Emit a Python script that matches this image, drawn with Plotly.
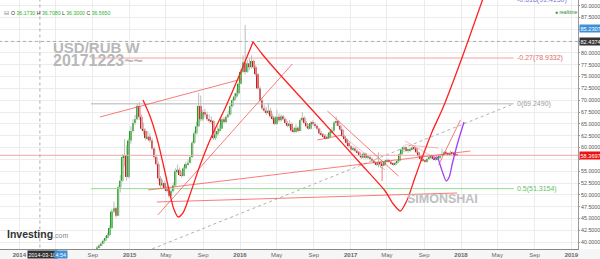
import plotly.graph_objects as go
import pandas as pd

# ---------------- data ----------------
first_week = "2014-09-01"
first_open = 37.0
close = [37.6, 38.3, 38.9, 39.3, 39.7, 40.3, 40.9, 41.5, 43.0, 46.5,
         47.2, 45.6, 51.6, 53.0, 58.0, 58.4, 53.8, 61.5, 63.5, 65.2,
         66.0, 68.8, 66.5, 64.0, 63.5, 62.0, 62.3, 61.5, 59.8, 58.0,
         56.5, 53.5, 52.0, 52.5, 51.4, 51.0, 49.8, 50.8, 52.0, 55.0,
         55.3, 54.2, 54.0, 55.6, 56.5, 56.8, 58.0, 61.0, 63.0, 64.5,
         68.8, 66.0, 67.5, 67.0, 66.0, 65.8, 65.6, 62.0, 62.8, 63.5,
         64.0, 66.0, 65.4, 66.5, 67.0, 68.8, 70.0, 70.8, 71.5, 73.5,
         76.0, 78.0, 76.0, 77.8, 77.0, 78.3, 77.0, 75.5, 72.5, 70.0,
         68.3, 67.8, 67.3, 67.8, 66.6, 66.2, 65.0, 66.5, 65.8, 66.6,
         66.0, 65.2, 64.6, 65.0, 63.6, 63.3, 64.2, 63.5, 65.8, 66.3,
         65.2, 64.5, 64.0, 65.2, 65.0, 64.6, 64.0, 63.0, 62.8, 62.4,
         62.0, 62.2, 63.2, 63.6, 65.3, 65.6, 64.6, 63.8, 62.4, 61.8,
         61.0, 60.3, 59.6, 59.8, 59.3, 59.0, 58.4, 57.9, 58.7, 57.9,
         58.0, 57.6, 57.2, 56.8, 56.5, 56.9, 56.6, 56.3, 57.0, 57.3,
         57.0, 56.6, 56.4, 56.8, 57.2, 58.6, 59.6, 60.1, 59.3, 59.4,
         59.6, 60.0, 59.8, 59.0, 58.2, 57.6, 57.2, 57.0, 57.6, 57.8,
         58.2, 57.6, 57.4, 57.8, 58.3, 58.6, 59.0, 58.8, 58.6, 58.9,
         58.8, 58.5, 58.37]
high = [37.9, 38.5, 39.2, 39.6, 40.1, 40.6, 41.3, 42.0, 43.6, 47.0,
        48.6, 47.5, 52.0, 54.2, 58.6, 61.8, 60.5, 62.0, 64.5, 66.0,
        66.9, 69.3, 69.6, 67.0, 65.3, 64.0, 63.5, 63.0, 62.0, 60.2,
        58.5, 57.0, 54.0, 53.2, 53.0, 52.0, 51.6, 51.2, 52.6, 55.6,
        56.4, 55.8, 55.0, 56.0, 57.0, 57.5, 58.4, 61.4, 63.6, 65.5,
        71.5, 71.0, 68.0, 68.2, 67.6, 67.0, 66.6, 65.8, 63.8, 64.5,
        64.8, 66.4, 66.5, 66.8, 67.8, 69.0, 70.3, 71.5, 72.3, 73.8,
        76.5, 79.5, 85.9, 78.5, 78.8, 79.5, 78.6, 77.5, 75.8, 73.0,
        70.5, 69.0, 68.6, 69.5, 68.4, 67.2, 66.6, 68.0, 67.2, 67.0,
        66.9, 66.3, 65.6, 65.8, 65.3, 64.2, 64.9, 64.5, 66.2, 67.5,
        66.6, 65.6, 65.0, 65.6, 65.8, 65.4, 64.9, 64.2, 63.5, 63.0,
        62.8, 62.8, 63.6, 64.3, 65.6, 66.6, 65.8, 64.8, 64.0, 62.7,
        62.0, 61.3, 60.5, 60.3, 60.1, 59.6, 59.2, 58.6, 59.0, 58.9,
        58.4, 58.3, 57.9, 57.5, 57.0, 59.0, 57.2, 56.9, 57.3, 57.7,
        57.6, 57.2, 56.8, 57.0, 57.4, 58.8, 59.9, 60.5, 60.2, 59.8,
        60.1, 60.4, 60.3, 59.9, 59.2, 58.4, 57.9, 57.5, 57.9, 58.2,
        58.5, 58.3, 57.9, 58.0, 58.5, 59.8, 59.3, 59.3, 59.0, 59.4,
        59.2, 58.9, 58.6]
low = [36.8, 37.5, 38.2, 38.7, 39.2, 39.6, 40.2, 40.8, 41.3, 42.8,
       46.2, 45.2, 45.5, 50.5, 52.8, 56.0, 53.0, 53.5, 60.8, 63.2,
       64.8, 65.8, 65.8, 63.7, 62.8, 61.5, 61.6, 61.0, 59.5, 57.6,
       56.2, 53.0, 51.5, 51.8, 51.0, 50.5, 49.4, 49.3, 50.5, 51.8,
       54.6, 54.0, 53.6, 53.9, 55.4, 56.2, 56.6, 57.8, 60.8, 62.8,
       64.3, 65.5, 65.6, 66.4, 65.6, 65.2, 65.0, 61.6, 61.6, 62.6,
       63.2, 63.8, 65.0, 65.2, 66.2, 66.8, 68.5, 69.8, 70.5, 71.2,
       73.5, 75.8, 75.4, 75.8, 76.4, 76.7, 76.6, 75.1, 72.2, 69.6,
       67.9, 67.4, 66.9, 67.0, 66.3, 65.8, 64.7, 64.8, 65.4, 65.5,
       65.7, 64.9, 64.3, 64.2, 63.4, 63.0, 63.1, 63.2, 63.4, 65.5,
       65.0, 64.2, 63.7, 63.8, 64.6, 64.2, 63.7, 62.7, 62.4, 62.0,
       61.7, 61.8, 62.0, 62.9, 63.3, 64.6, 64.4, 63.5, 62.2, 61.5,
       60.7, 60.0, 59.2, 59.3, 59.0, 58.7, 58.1, 57.6, 57.7, 57.6,
       57.6, 57.3, 56.9, 56.5, 56.1, 55.8, 55.7, 55.9, 56.1, 56.8,
       56.8, 56.3, 56.1, 56.2, 56.6, 57.0, 58.4, 59.0, 59.1, 58.9,
       59.1, 59.4, 59.5, 58.8, 58.0, 57.4, 57.0, 56.8, 56.8, 57.4,
       57.6, 57.4, 57.2, 57.3, 57.6, 58.1, 58.4, 58.5, 58.4, 58.5,
       58.6, 58.3, 58.3]

last_price = 58.3697
cross_date, cross_price = "2014-03-10", 82.4374
marker_price = 85.2307

fib_dates = ["2014-08-26", "2018-06-24"]
fib_base = [33.3818, 69.2490]
fib_levels = [78.9332, 69.2490, 51.3154]
fib_labels = ["-0.27(78.9332)", "0(69.2490)", "0.5(51.3154)"]
fib_top = 91.4130
fib_top_label = "-0.618(91.4130)"

# thin trend lines (date pairs, price pairs)
trend_lines = [
    (["2014-09-25", "2016-01-08"], [66.47, 74.5]),
    (["2015-04-04", "2016-06-22"], [45.75, 77.67]),
    (["2015-03-03", "2018-02-01"], [51.04, 59.28]),
    (["2015-04-01", "2017-12-19"], [48.5, 50.4]),
    (["2016-10-16", "2017-06-08"], [67.74, 54.0]),
    (["2016-09-13", "2016-12-04"], [61.6, 62.66]),
    (["2017-04-15", "2017-04-15"], [55.9, 52.94]),
    (["2017-10-19", "2017-12-30"], [56.32, 65.84]),
]
light_lines = [
    (["2016-12-14", "2017-04-25"], [62.03, 55.27]),
    (["2017-06-30", "2017-10-07"], [61.4, 57.8]),
    (["2017-06-30", "2017-10-19"], [60.6, 59.9]),
]

arc1_dates = ["2015-02-14", "2015-03-09", "2015-04-01", "2015-04-21", "2015-05-11",
              "2015-05-27", "2015-06-10", "2015-06-26", "2015-07-19", "2015-08-22",
              "2015-10-01", "2015-11-13", "2015-12-26", "2016-02-13"]
arc1_vals = [70.06, 66.68, 62.03, 56.74, 51.04, 47.02, 45.33, 46.17, 49.98, 56.32,
             62.66, 68.37, 74.71, 82.33]
arc2_dates = ["2016-02-13", "2016-03-14", "2016-05-13", "2016-09-23", "2017-02-01",
              "2017-04-25", "2017-05-22", "2017-06-14", "2017-07-07", "2017-07-30",
              "2017-08-25", "2017-09-27", "2017-11-02", "2018-01-04", "2018-03-20"]
arc2_vals = [82.33, 79.79, 75.35, 66.05, 56.74, 50.82, 48.07, 46.59, 48.92, 53.15,
             57.80, 63.30, 68.37, 78.94, 92.47]
purple_dates = ["2017-10-01", "2017-10-14", "2017-10-24", "2017-11-03", "2017-11-13",
                "2017-11-23", "2017-12-03", "2017-12-19", "2018-01-11"]
purple_vals = [57.38, 58.01, 56.32, 54.42, 52.94, 53.78, 56.53, 60.55, 65.41]

tick_dates = ["2014-01-01", "2014-05-01", "2014-09-01", "2015-01-01", "2015-05-01",
              "2015-09-01", "2016-01-01", "2016-05-01", "2016-09-01", "2017-01-01",
              "2017-05-01", "2017-09-01", "2018-01-01", "2018-05-01", "2018-09-01",
              "2019-01-01"]
tick_text = ["<b>2014</b>", "", "Sep", "<b>2015</b>", "May", "Sep", "<b>2016</b>",
             "May", "Sep", "<b>2017</b>", "May", "Sep", "<b>2018</b>", "May", "Sep",
             "<b>2019</b>"]
y_ticks = [40.0, 42.5, 45.0, 47.5, 50.0, 52.5, 55.0, 57.5, 60.0, 62.5, 65.0, 67.5,
           70.0, 72.5, 75.0, 77.5, 80.0, 82.5, 85.0, 87.5, 90.0]
y_hidden = [57.5, 82.5, 85.0]   # covered by the price boxes in the reference

# ---------------- figure ----------------
W, H = 600, 259
ML, MR, MT, MB = 0, 22, 0, 10
PW, PH = W - ML - MR, H - MT - MB
FONT = "Liberation Sans, Arial, sans-serif"
GREEN, RED = "#16a816", "#e01414"


def px(x):
    return x / PW


def py(y):
    return 1 - y / PH


dates = pd.date_range(first_week, periods=len(close), freq="7D")
opens = [first_open] + close[:-1]
y_text = ["" if v in y_hidden else f"{v:.4f}" for v in y_ticks]

fig = go.Figure()

# fib levels
fib_colors = ["#f2a0a0", "#b5b5b5", "#8fdc8f"]
for lv, col in zip(fib_levels, fib_colors):
    fig.add_trace(go.Scatter(x=fib_dates, y=[lv, lv], mode="lines",
                             line=dict(color=col, width=1), hoverinfo="skip"))
fig.add_trace(go.Scatter(x=fib_dates, y=fib_base, mode="lines",
                         line=dict(color="#b0b0b0", width=1, dash="dot"), hoverinfo="skip"))

# last price line
fig.add_trace(go.Scatter(x=[dates[0] - pd.Timedelta(days=400), dates[-1] + pd.Timedelta(days=500)],
                         y=[last_price, last_price], mode="lines",
                         line=dict(color="#f4a4a4", width=1), hoverinfo="skip"))

# crosshair
fig.add_trace(go.Scatter(x=[cross_date, cross_date], y=[30, 95], mode="lines",
                         line=dict(color="#aaaaaa", width=1, dash="dot"), hoverinfo="skip"))
fig.add_trace(go.Scatter(x=["2013-01-01", "2019-12-31"], y=[cross_price, cross_price], mode="lines",
                         line=dict(color="#aaaaaa", width=1, dash="dot"), hoverinfo="skip"))

# wicks
wx, wy = [], []
for d, h, l in zip(dates, high, low):
    wx += [d, d, None]
    wy += [l, h, None]
fig.add_trace(go.Scatter(x=wx, y=wy, mode="lines", line=dict(color="#bdbdbd", width=1),
                         hoverinfo="skip"))

# bodies
base = [min(o, c) for o, c in zip(opens, close)]
size = [max(abs(c - o), 0.2) for o, c in zip(opens, close)]
cols = [GREEN if c >= o else RED for o, c in zip(opens, close)]
fig.add_trace(go.Bar(x=dates, y=size, base=base, marker=dict(color=cols, line=dict(width=0)),
                     width=6.4 * 86400000, hoverinfo="skip"))

# drawings
for xs, ys in light_lines:
    fig.add_trace(go.Scatter(x=xs, y=ys, mode="lines",
                             line=dict(color="rgba(240,120,120,0.5)", width=1), hoverinfo="skip"))
for xs, ys in trend_lines:
    fig.add_trace(go.Scatter(x=xs, y=ys, mode="lines",
                             line=dict(color="rgba(245,80,80,0.75)", width=1), hoverinfo="skip"))
fig.add_trace(go.Scatter(x=arc1_dates, y=arc1_vals, mode="lines",
                         line=dict(color="#ff2020", width=1.3, shape="spline", smoothing=0.8),
                         hoverinfo="skip"))
fig.add_trace(go.Scatter(x=arc2_dates, y=arc2_vals, mode="lines",
                         line=dict(color="#ff2020", width=1.3, shape="spline", smoothing=0.6),
                         hoverinfo="skip"))
fig.add_trace(go.Scatter(x=purple_dates, y=purple_vals, mode="lines",
                         line=dict(color="#a040f0", width=1.3, shape="spline", smoothing=0.8),
                         hoverinfo="skip"))

ann = []
# fib labels
for lv, lab, col in zip(fib_levels, fib_labels, ["#e06a6a", "#999999", "#5cc45c"]):
    ann.append(dict(x=fib_dates[1], y=lv, xref="x", yref="y", text=lab, showarrow=False,
                    xanchor="left", xshift=1, font=dict(size=7, color=col, family=FONT)))
ann.append(dict(x=fib_dates[1], y=fib_top - 0.3, xref="x", yref="y", text=fib_top_label,
                showarrow=False, xanchor="left", xshift=1,
                font=dict(size=7, color="#7a7ad6", family=FONT)))

# right axis boxes
for val, bg in [(marker_price, "#3f8fd6"), (cross_price, "#333333"), (last_price, "#ee1111")]:
    ann.append(dict(x=1, y=val, xref="paper", yref="y", text=f"{val:.4f}", showarrow=False,
                    xanchor="left", xshift=1, bgcolor=bg, borderpad=0.5,
                    font=dict(size=5.6, color="white", family=FONT)))

# x crosshair boxes
ann.append(dict(x=px(27), y=0, xref="paper", yref="paper", text="2014-03-10", showarrow=False,
                xanchor="left", yanchor="top", yshift=-1, bgcolor="#333333", borderpad=0.5,
                font=dict(size=5.4, color="white", family=FONT)))
ann.append(dict(x=px(54), y=0, xref="paper", yref="paper", text="4:54", showarrow=False,
                xanchor="left", yanchor="top", yshift=-1, bgcolor="#3f8fd6", borderpad=0.5,
                font=dict(size=5.4, color="white", family=FONT)))

# header
hdr = ("O <span style='color:#2db52d'>36.1730</span> H <span style='color:#2db52d'>36.7080</span> "
       "L <span style='color:#2db52d'>36.3000</span> C <span style='color:#2db52d'>36.5650</span>")
ann.append(dict(x=px(9), y=py(7.5), xref="paper", yref="paper", text=hdr, showarrow=False,
                xanchor="left", font=dict(size=5.2, color="#333333", family=FONT)))
ann.append(dict(x=px(2), y=py(7), xref="paper", yref="paper", text="⊟", showarrow=False,
                xanchor="left", font=dict(size=6, color="#777777", family="DejaVu Sans")))
ann.append(dict(x=px(553), y=py(7), xref="paper", yref="paper",
                text="● realtime", showarrow=False, xanchor="left",
                font=dict(size=5, color="#2a8a2a", family=FONT)))

# titles
ann.append(dict(x=px(51), y=py(37), xref="paper", yref="paper", text="<b>USD/RUB W</b>",
                showarrow=False, xanchor="left", font=dict(size=15, color="#b8b8b8", family=FONT)))
ann.append(dict(x=px(51), y=py(50), xref="paper", yref="paper", text="<b>20171223~~</b>",
                showarrow=False, xanchor="left", font=dict(size=16, color="#b8b8b8", family=FONT)))
ann.append(dict(x=px(480), y=py(207.5), xref="paper", yref="paper", text="<b>SIMONSHAI</b>",
                showarrow=False, font=dict(size=12.5, color="#c0c0c0", family=FONT)))
ann.append(dict(x=px(5), y=py(241.5), xref="paper", yref="paper",
                text="<b>Investing</b><span style='font-size:7px;color:#888'>.com</span>",
                showarrow=False, xanchor="left",
                font=dict(size=10.5, color="#333333", family=FONT)))

fig.update_layout(
    width=W, height=H, margin=dict(l=ML, r=MR, t=MT, b=MB),
    paper_bgcolor="white", plot_bgcolor="white", showlegend=False,
    barmode="overlay", template="none",
    font=dict(family=FONT),
    annotations=ann,
    shapes=[dict(type="rect", xref="paper", yref="paper", x0=0, x1=1 + MR / PW, y0=0, y1=-MB / PH,
                 fillcolor="#f6f6f6", line=dict(width=0), layer="below")],
    xaxis=dict(type="date", range=["2013-10-29", "2019-01-23"], tickvals=tick_dates,
               ticktext=tick_text, tickfont=dict(size=6, color="#666666"),
               showgrid=True, gridcolor="#ececec", gridwidth=1, zeroline=False,
               showline=True, linecolor="#888888", linewidth=1, ticks="", automargin=False,
               fixedrange=True),
    yaxis=dict(side="right", range=[38.56, 91.2], tickvals=y_ticks, ticktext=y_text,
               tickfont=dict(size=5.3, color="#555555"), showgrid=True, gridcolor="#ececec",
               zeroline=False, showline=True, linecolor="#999999", linewidth=1,
               ticks="outside", ticklen=1, tickcolor="#999999", automargin=False,
               fixedrange=True),
)

fig.write_html("out.html", config={"displayModeBar": False})
